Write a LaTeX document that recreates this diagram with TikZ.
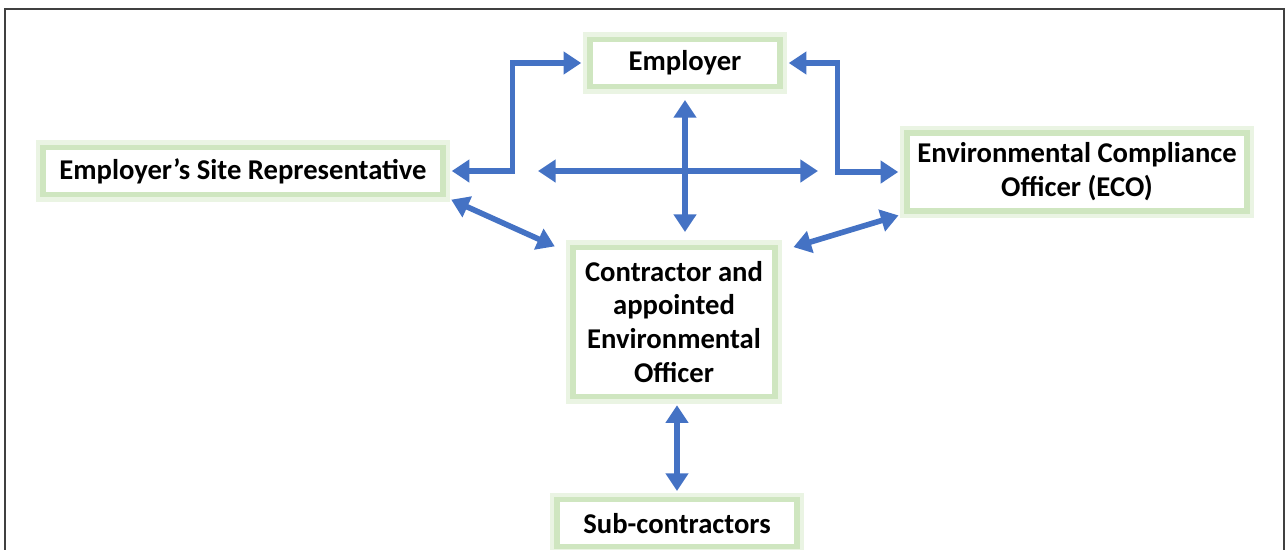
\documentclass[tikz,border=0pt]{standalone}
\usepackage{fontspec}
\setmainfont{Carlito}
\usepackage{tikz}
\usetikzlibrary{positioning,arrows.meta,calc}

\definecolor{glowgreen}{HTML}{CFE6C0}
\definecolor{paleglow}{HTML}{EAF4E3}
\definecolor{linkblue}{HTML}{4472C4}
\definecolor{framegray}{HTML}{404040}

\tikzset{
  rolebox/.style={draw=glowgreen, line width=3pt, fill=white,
    preaction={draw=paleglow, line width=8pt},
    align=center, inner sep=2pt,
    font=\fontsize{16.3}{19.3}\selectfont\bfseries},
  link/.style={draw=linkblue, line width=3.2pt,
    {Triangle[length=10pt,width=12.5pt]}-{Triangle[length=10pt,width=12.5pt]},
    shorten <=3.5pt, shorten >=3.5pt}
}

\begin{document}
\begin{tikzpicture}[x=0.02cm,y=-0.02cm]

  \useasboundingbox (0,0) rectangle (1286,549);
  \draw[framegray, line width=1.4pt] (5,560) -- (5,9) -- (1284,9) -- (1284,560);

  \node[rolebox] (emp) [minimum width=3.8cm, minimum height=0.94cm] at (685,63) {Employer};
  \node[rolebox] (esr) [minimum width=8cm, minimum height=0.94cm] at (243,171) {Employer’s Site Representative};
  \node[rolebox] (eco) [minimum width=6.8cm, minimum height=1.56cm] at (1077,172) {Environmental Compliance\\Officer (ECO)};
  \node[rolebox] (con) [minimum width=4.04cm, minimum height=2.98cm] at (674,322) {Contractor and\\appointed\\Environmental\\Officer};
  \node[rolebox] (sub) [minimum width=4.8cm, minimum height=0.94cm, below=1.96cm of con, xshift=0.06cm] {Sub-contractors};

  \coordinate (hl) at (538,171);
  \coordinate (hr) at (818,171);
  \coordinate (vt) at (685,100);
  \coordinate (vb) at (685,232);

  \draw[link] (esr.east) -| ([xshift=-1.5cm]emp.west) -- (emp.west);
  \draw[link] (emp.east) -| ([xshift=-1.34cm]eco.west) -- (eco.west);
  \draw[link, shorten <=0pt, shorten >=0pt] (hl) -- (hr);
  \draw[link, shorten <=0pt, shorten >=0pt] (vt) -- (vb);
  \draw[link] (esr.south east) -- ([shift={(-10,4)}]con.north west);
  \draw[link] (eco.south west) -- ([shift={(10,4)}]con.north east);
  \draw[link] (sub.north |- con.south) -- (sub.north);

\end{tikzpicture}
\end{document}
